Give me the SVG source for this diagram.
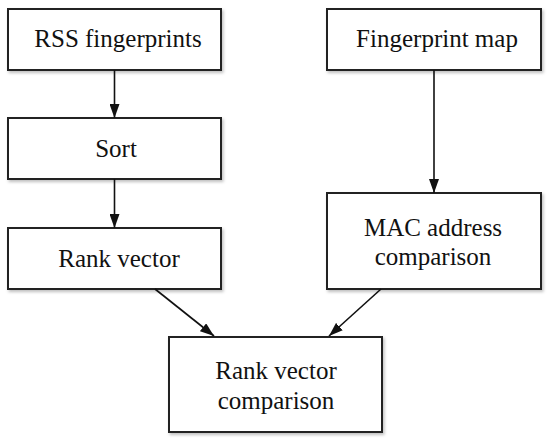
<svg xmlns="http://www.w3.org/2000/svg" width="550" height="444" viewBox="0 0 550 444">
<defs>
<filter id="sh" x="-10%" y="-10%" width="125%" height="130%">
<feDropShadow dx="1.5" dy="2" stdDeviation="1.5" flood-color="#000" flood-opacity="0.25"/>
</filter>
<marker id="ah" markerWidth="14" markerHeight="10" refX="14" refY="5" orient="auto" markerUnits="userSpaceOnUse">
<path d="M0,0 L14,5 L0,10 Z" fill="#111"/>
</marker>
</defs>
<style>
.box{fill:#fff;stroke:#222;stroke-width:2;filter:url(#sh)}
.t{font-family:'Liberation Serif','Times New Roman','DejaVu Serif',serif;font-size:25px;fill:#111;text-anchor:middle}
.c{stroke:#111;stroke-width:1.6;fill:none;marker-end:url(#ah)}
</style>
<g id="rss"><rect class="box" x="8" y="9" width="213" height="61"/><text class="t" x="118" y="47">RSS fingerprints</text></g>
<g id="sort"><rect class="box" x="8" y="118" width="213" height="61"/><text class="t" x="116" y="157">Sort</text></g>
<g id="rank"><rect class="box" x="8" y="228" width="213" height="61"/><text class="t" x="119" y="267">Rank vector</text></g>
<g id="map"><rect class="box" x="327" y="9" width="214" height="61"/><text class="t" x="437" y="47">Fingerprint map</text></g>
<g id="mac"><rect class="box" x="327" y="193" width="214" height="96"/><text class="t" x="433" y="236">MAC address</text><text class="t" x="433" y="265">comparison</text></g>
<g id="rvc"><rect class="box" x="169" y="337" width="213" height="95"/><text class="t" x="276" y="379">Rank vector</text><text class="t" x="276" y="409">comparison</text></g>
<g id="connectors">
<line class="c" x1="114.5" y1="70" x2="114.5" y2="118"/>
<line class="c" x1="114.5" y1="179" x2="114.5" y2="228"/>
<line class="c" x1="434" y1="70" x2="434" y2="193"/>
<line class="c" x1="155" y1="289" x2="214" y2="336"/>
<line class="c" x1="381" y1="289" x2="329" y2="336"/>
</g>
</svg>
